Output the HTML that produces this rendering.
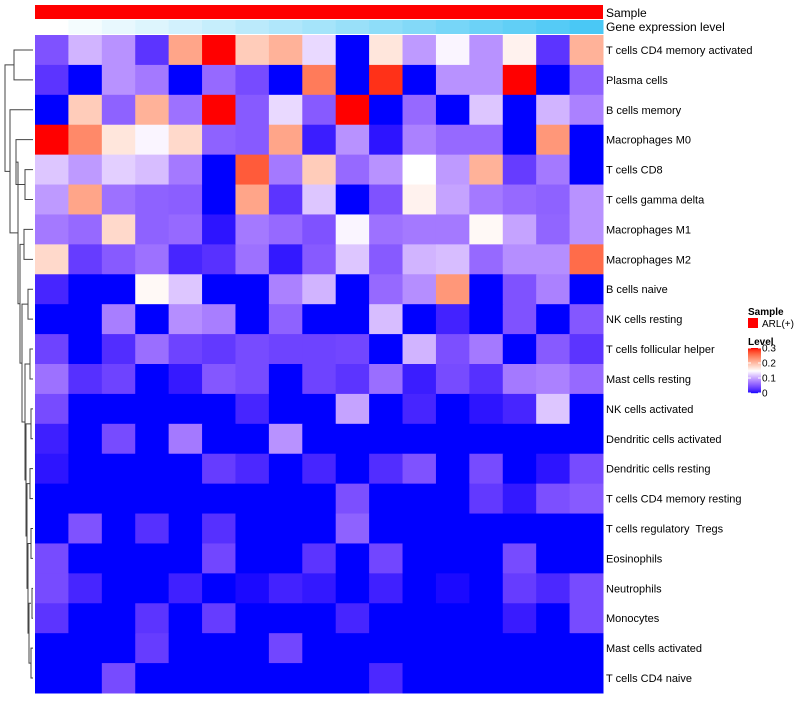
<!DOCTYPE html>
<html><head><meta charset="utf-8"><style>
body{margin:0;background:#fff;font-family:"Liberation Sans",sans-serif}
text{white-space:pre}
</style></head><body>
<svg id="chart" width="800" height="700" xmlns="http://www.w3.org/2000/svg" font-family="Liberation Sans, sans-serif"></svg>
<script>
const rowLabels=["T cells CD4 memory activated","Plasma cells","B cells memory","Macrophages M0","T cells CD8","T cells gamma delta","Macrophages M1","Macrophages M2","B cells naive","NK cells resting","T cells follicular helper","Mast cells resting","NK cells activated","Dendritic cells activated","Dendritic cells resting","T cells CD4 memory resting","T cells regulatory  Tregs","Eosinophils","Neutrophils","Monocytes","Mast cells activated","T cells CD4 naive"];
const geneLevels=[0,1,2,3,4,5,6,7,8,9,10,11,12,13,14,15,16];
const r01=[.05,.11,.09,.03,.22,.3,.19,.21,.13,0,.17,.095,.145,.09,.16,.03,.21];
const r02=[.03,0,.09,.075,0,.065,.045,0,.25,0,.29,0,.09,.09,.3,0,.06];
const r03=[0,.19,.06,.21,.07,.3,.055,.13,.055,.3,0,.065,0,.12,0,.11,.08];
const r04=[.3,.24,.17,.145,.18,.06,.055,.22,.015,.09,.01,.08,.065,.065,0,.23,0];
const r05=[.12,.095,.125,.115,.075,0,.27,.075,.19,.065,.09,.15,.095,.21,.035,.075,0];
const r06=[.095,.22,.07,.06,.058,0,.22,.03,.12,0,.05,.16,.1,.075,.065,.06,.09];
const r07=[.075,.065,.18,.06,.065,.01,.075,.065,.05,.145,.07,.075,.075,.155,.1,.062,.09];
const r08=[.18,.035,.055,.07,.02,.028,.07,.012,.055,.12,.055,.11,.115,.065,.088,.088,.26];
const r09=[.02,0,0,.155,.12,0,0,.08,.11,0,.065,.088,.23,0,.05,.08,0];
const r10=[0,0,.078,0,.088,.078,0,.06,0,0,.115,0,.018,0,.05,0,.053];
const r11=[.04,0,.025,.068,.04,.033,.045,.04,.04,.042,0,.11,.048,.075,0,.055,.03];
const r12=[.07,.027,.04,0,.013,.053,.045,0,.04,.03,.068,.015,.045,.027,.075,.08,.065];
const r13=[.045,0,0,0,0,0,.02,0,0,.1,0,.02,0,.01,.02,.12,0];
const r14=[.016,0,.045,0,.075,0,0,.09,0,0,0,0,0,0,0,0,0];
const r15=[.01,0,0,0,0,.035,.022,0,.02,0,.025,.05,0,.045,0,.01,.045];
const r16=[0,0,0,0,0,0,0,0,0,.048,0,0,0,.033,.012,.048,.055];
const r17=[0,.05,0,.027,0,.027,0,0,0,.06,0,0,0,0,0,0,0];
const r18=[.045,0,0,0,0,.042,0,0,.03,0,.042,0,0,0,.045,0,0];
const r19=[.045,.02,0,0,.017,0,.005,.018,.012,0,.017,0,.005,0,.035,.022,.045];
const r20=[.03,0,0,.03,0,.035,0,0,0,.02,0,0,0,0,.014,0,.045];
const r21=[0,0,0,.035,0,0,0,.042,0,0,0,0,0,0,0,0,0];
const r22=[0,0,.045,0,0,0,0,0,0,0,.022,0,0,0,0,0,0];
const values=[r01,r02,r03,r04,r05,r06,r07,r08,r09,r10,r11,r12,r13,r14,r15,r16,r17,r18,r19,r20,r21,r22];
const legendTicks=[0,0.1,0.2,0.3];

const NS="http://www.w3.org/2000/svg";
const svg=document.getElementById('chart');
function mk(t,a,p){const e=document.createElementNS(NS,t);for(const k in a)e.setAttribute(k,a[k]);(p||svg).appendChild(e);return e;}
function toLin(c){c/=255;return c<=0.04045?c/12.92:Math.pow((c+0.055)/1.055,2.4);}
function fromLin(c){c=c<=0.0031308?12.92*c:1.055*Math.pow(c,1/2.4)-0.055;return Math.max(0,Math.min(255,Math.round(c*255)));}
function rgb2lab(r,g,b){r=toLin(r);g=toLin(g);b=toLin(b);
 let x=(0.4124*r+0.3576*g+0.1805*b)/0.95047,y=0.2126*r+0.7152*g+0.0722*b,z=(0.0193*r+0.1192*g+0.9505*b)/1.08883;
 const f=t=>t>0.008856?Math.cbrt(t):7.787*t+16/116;x=f(x);y=f(y);z=f(z);
 return [116*y-16,500*(x-y),200*(y-z)];}
function lab2rgb(L,a,b){let y=(L+16)/116,x=a/500+y,z=y-b/200;
 const f=t=>t*t*t>0.008856?t*t*t:(t-16/116)/7.787;x=f(x)*0.95047;y=f(y);z=f(z)*1.08883;
 const r=3.2406*x-1.5372*y-0.4986*z,g=-0.9689*x+1.8758*y+0.0415*z,bb=0.0557*x-0.2040*y+1.0570*z;
 return `rgb(${fromLin(r)},${fromLin(g)},${fromLin(bb)})`;}
const LB=rgb2lab(0,0,255),LW=rgb2lab(255,255,255),LR=rgb2lab(255,0,0);
function col(v){v=Math.max(0,Math.min(0.3,v));let a,b,t;
 if(v<=0.15){a=LB;b=LW;t=Math.pow(v/0.15,1.25);}else{a=LW;b=LR;t=(v-0.15)/0.15;}
 return lab2rgb(a[0]+(b[0]-a[0])*t,a[1]+(b[1]-a[1])*t,a[2]+(b[2]-a[2])*t);}

const X0=35,X1=603,Y0=35,Y1=693;
const nC=r01.length,nR=values.length;
const cw=(X1-X0)/nC,rh=(Y1-Y0)/nR;
const xS=i=>X0+i*cw, yS=j=>Y0+j*rh;

const sb=mk('rect',{x:X0,y:5,width:X1-X0,height:14,fill:'#ff0000'});


const gMax=Math.max(...geneLevels);
geneLevels.forEach((g,i)=>{const t=g/gMax;
 const r=Math.round(255+(74-255)*t),gg=Math.round(255+(200-255)*t),b=Math.round(255+(245-255)*t);
 const e=mk('rect',{x:xS(i),y:20,width:cw+0.5,height:14,fill:`rgb(${r},${gg},${b})`});
 
 });
const t1=mk('text',{x:606,y:17,'font-size':12});t1.textContent='Sample';

const t2=mk('text',{x:606,y:31,'font-size':12});t2.textContent='Gene expression level';


values.forEach((row,j)=>{row.forEach((v,i)=>{
 const e=mk('rect',{x:xS(i),y:yS(j),width:cw+0.5,height:rh+0.5,fill:col(v)});
 
 });
 const l=mk('text',{x:606,y:yS(j)+rh/2+4,'font-size':11,'xml:space':'preserve'});l.textContent=rowLabels[j];
 
 });

const yc=j=>yS(j)+rh/2;
const g=mk('g',{stroke:'#444','stroke-width':1,fill:'none'});

function link(xa,ya,xb,yb,xj){mk('path',{d:`M${xa},${ya}H${xj}V${yb}H${xb}`},g);}
link(33,yc(0),33,yc(1),14);
link(33,yc(4),33,yc(5),25);
link(33,yc(6),33,yc(7),24);
const mid01=(yc(0)+yc(1))/2,m45=(yc(4)+yc(5))/2,m67=(yc(6)+yc(7))/2;
link(33,yc(3),25,m45,16);
const m345=(yc(3)+m45)/2;
link(33,yc(8),33,yc(9),28);
const m89=(yc(8)+yc(9))/2;
link(33,yc(10),33,yc(11),30);link(33,yc(12),33,yc(13),31);
link(33,yc(14),33,yc(15),30);link(33,yc(16),33,yc(17),31);
link(33,yc(18),33,yc(19),32);link(33,yc(20),33,yc(21),31);
const a1=(yc(10)+yc(11))/2,a2=(yc(12)+yc(13))/2,a3=(yc(14)+yc(15))/2,a4=(yc(16)+yc(17))/2,a5=(yc(18)+yc(19))/2,a6=(yc(20)+yc(21))/2;
link(31,a5,31,a6,29);const b56=(a5+a6)/2;
link(31,a4,29,b56,28);const b456=(a4+b56)/2;
link(30,a3,28,b456,27);const b3=(a3+b456)/2;
link(31,a2,27,b3,26);const b2=(a2+b3)/2;
link(30,a1,26,b2,25);const b1=(a1+b2)/2;
link(28,m89,25,b1,22);const c1=(m89+b1)/2;
link(24,m67,22,c1,20);const c2=(m67+c1)/2;
link(16,m345,20,c2,18);const c3=(m345+c2)/2;
link(33,yc(2),18,c3,10);const c4=(yc(2)+c3)/2;
link(14,mid01,10,c4,5);

const lt=mk('text',{x:748,y:315,'font-size':10,'font-weight':'bold'});lt.textContent='Sample';

const lr=mk('rect',{x:748,y:318,width:10,height:10,fill:'#ff0000'});

const ll=mk('text',{x:762,y:327,'font-size':10});ll.textContent='ARL(+)';

const lv=mk('text',{x:748,y:345,'font-size':10,'font-weight':'bold'});lv.textContent='Level';

const LT=348,LBm=393;
for(let k=0;k<45;k++){const v=0.3*(1-k/45);
 const e=mk('rect',{x:748,y:LT+k,width:13,height:1.2,fill:col(v)});
 }
legendTicks.forEach(v=>{const y=LBm-(v/0.3)*(LBm-LT);
 mk('line',{x1:748,x2:751,y1:y,y2:y,stroke:'#fff'});mk('line',{x1:758,x2:761,y1:y,y2:y,stroke:'#fff'});
 const t=mk('text',{x:762,y:y+3.5,'font-size':10});t.textContent=v===0?'0':v.toFixed(1);
 });
</script>
</body></html>
